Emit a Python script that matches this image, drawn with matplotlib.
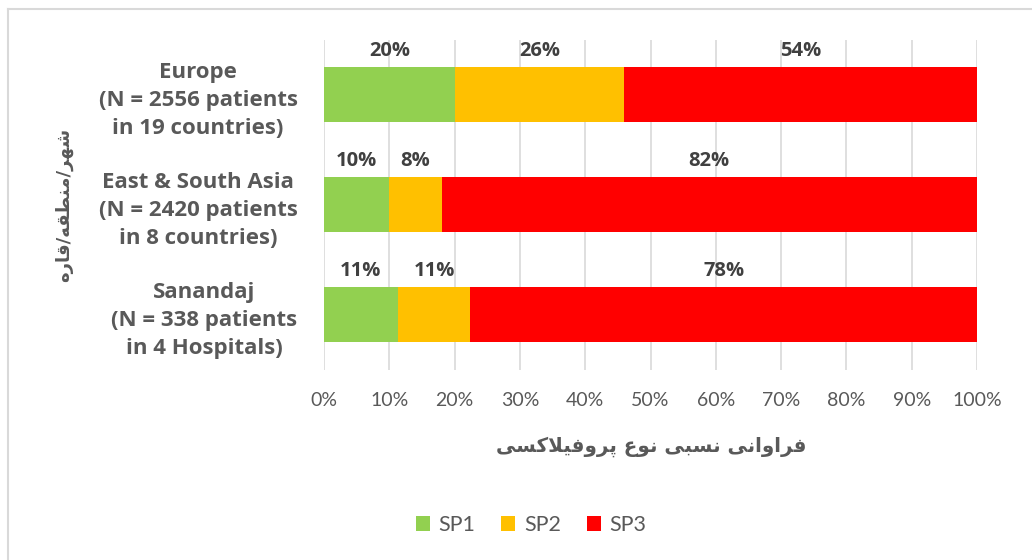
import matplotlib
matplotlib.use("Agg")
import matplotlib.pyplot as plt
from matplotlib.lines import Line2D
from matplotlib.patches import Patch

# Dados
categorias = [
    "Europe\n(N = 2556 patients\nin 19 countries)",
    "East & South Asia\n(N = 2420 patients\nin 8 countries)",
    "Sanandaj\n(N = 338 patients\nin 4 Hospitals)",
]
sp1 = [20, 10, 11.3]
sp2 = [26, 8, 11.1]
sp3 = [54, 82, 77.6]
series = ["SP1", "SP2", "SP3"]
cores = ["#92D050", "#FFC000", "#FF0000"]
xticks = list(range(0, 101, 10))
xlabel_fa = "فراوانی نسبی نوع پروفیلاکسی"
ylabel_fa = "شهر/منطقه/قاره"

# formas de apresentacao (iso, fin, ini, med)
FORMS = {
    "ا": ("\uFE8D", "\uFE8E", None, None),
    "ب": ("\uFE8F", "\uFE90", "\uFE91", "\uFE92"),
    "پ": ("\uFB56", "\uFB57", "\uFB58", "\uFB59"),
    "ر": ("\uFEAD", "\uFEAE", None, None),
    "س": ("\uFEB1", "\uFEB2", "\uFEB3", "\uFEB4"),
    "ش": ("\uFEB5", "\uFEB6", "\uFEB7", "\uFEB8"),
    "ط": ("\uFEC1", "\uFEC2", "\uFEC3", "\uFEC4"),
    "ع": ("\uFEC9", "\uFECA", "\uFECB", "\uFECC"),
    "ف": ("\uFED1", "\uFED2", "\uFED3", "\uFED4"),
    "ق": ("\uFED5", "\uFED6", "\uFED7", "\uFED8"),
    "ک": ("\uFB8E", "\uFB8F", "\uFB90", "\uFB91"),
    "ل": ("\uFEDD", "\uFEDE", "\uFEDF", "\uFEE0"),
    "م": ("\uFEE1", "\uFEE2", "\uFEE3", "\uFEE4"),
    "ن": ("\uFEE5", "\uFEE6", "\uFEE7", "\uFEE8"),
    "ه": ("\uFEE9", "\uFEEA", "\uFEEB", "\uFEEC"),
    "و": ("\uFEED", "\uFEEE", None, None),
    "ی": ("\uFBFC", "\uFBFD", "\uFBFE", "\uFBFF"),
}


def shape_fa(text):
    chars = list(text.replace("\u064A", "\u06CC").replace("\u0643", "\u06A9"))
    n = len(chars)
    out = []
    i = 0
    while i < n:
        c = chars[i]
        prev_ok = i > 0 and chars[i - 1] in FORMS and FORMS[chars[i - 1]][2] is not None
        if c == "ل" and i + 1 < n and chars[i + 1] == "ا":
            out.append("\uFEFC" if prev_ok else "\uFEFB")
            i += 2
            continue
        if c not in FORMS:
            out.append(c)
            i += 1
            continue
        f = FORMS[c]
        next_ok = f[2] is not None and i + 1 < n and chars[i + 1] in FORMS
        if prev_ok and next_ok:
            out.append(f[3])
        elif next_ok:
            out.append(f[2])
        elif prev_ok:
            out.append(f[1])
        else:
            out.append(f[0])
        i += 1
    return "".join(reversed(out))


plt.rcParams["font.family"] = ["Lato", "DejaVu Sans"]
negrito = ["Open Sans", "DejaVu Sans"]

fig = plt.figure(figsize=(10.32, 5.6), dpi=100)
ax = fig.add_axes([324 / 1032, 1 - 369.5 / 560, 653 / 1032, 330 / 560])

y = list(range(len(categorias)))
esquerda = [0] * len(categorias)
for nome, vals, cor in zip(series, [sp1, sp2, sp3], cores):
    ax.barh(y, vals, left=esquerda, height=0.5, color=cor, label=nome, zorder=3)
    for yi, l, v in zip(y, esquerda, vals):
        ax.text(l + v / 2, yi - 0.40, f"{v:.0f}%", ha="center", va="center",
                fontsize=14.5, fontweight="bold", color="#404040", family=negrito)
    esquerda = [a + b for a, b in zip(esquerda, vals)]

ax.set_xlim(0, 100)
ax.set_ylim(-0.5, len(categorias) - 0.5)
ax.invert_yaxis()
ax.set_xticks(xticks)
ax.set_xticklabels([f"{t}%" for t in xticks], fontsize=14, color="#595959")
ax.set_yticks(y)
ax.set_yticklabels(categorias, fontsize=16, fontweight="bold", color="#595959",
                   linespacing=1.42, multialignment="center", family=negrito)
ax.tick_params(axis="both", length=0)
ax.tick_params(axis="x", pad=16)
ax.tick_params(axis="y", pad=19)
ax.grid(axis="x", color="#D9D9D9", linewidth=1.2, zorder=0)
for s in ax.spines.values():
    s.set_visible(False)

fig.text(651 / 1032, 1 - 447 / 560, shape_fa(xlabel_fa), ha="center", va="center",
         fontsize=14.3, fontweight="bold", color="#595959", family=["DejaVu Sans"])
fig.text(64 / 1032, 1 - 205 / 560, shape_fa(ylabel_fa), ha="center", va="center",
         rotation=90, fontsize=13, fontweight="bold", color="#595959",
         family=["DejaVu Sans"])

handles = [Patch(facecolor=c, label=s) for s, c in zip(series, cores)]
fig.legend(handles=handles, loc="center", bbox_to_anchor=(531 / 1032, 1 - 525 / 560),
           ncol=3, frameon=False, fontsize=15.5, labelcolor="#595959",
           handlelength=0.65, handleheight=0.65, handletextpad=0.4, columnspacing=1.2)

# borda
fig.add_artist(Line2D([8 / 1032, 8 / 1032], [0, 1 - 9 / 560], transform=fig.transFigure,
                      color="#D9D9D9", linewidth=1.5))
fig.add_artist(Line2D([8 / 1032, 1], [1 - 9 / 560, 1 - 9 / 560], transform=fig.transFigure,
                      color="#D9D9D9", linewidth=1.5))

fig.savefig("out.png", dpi=100)
